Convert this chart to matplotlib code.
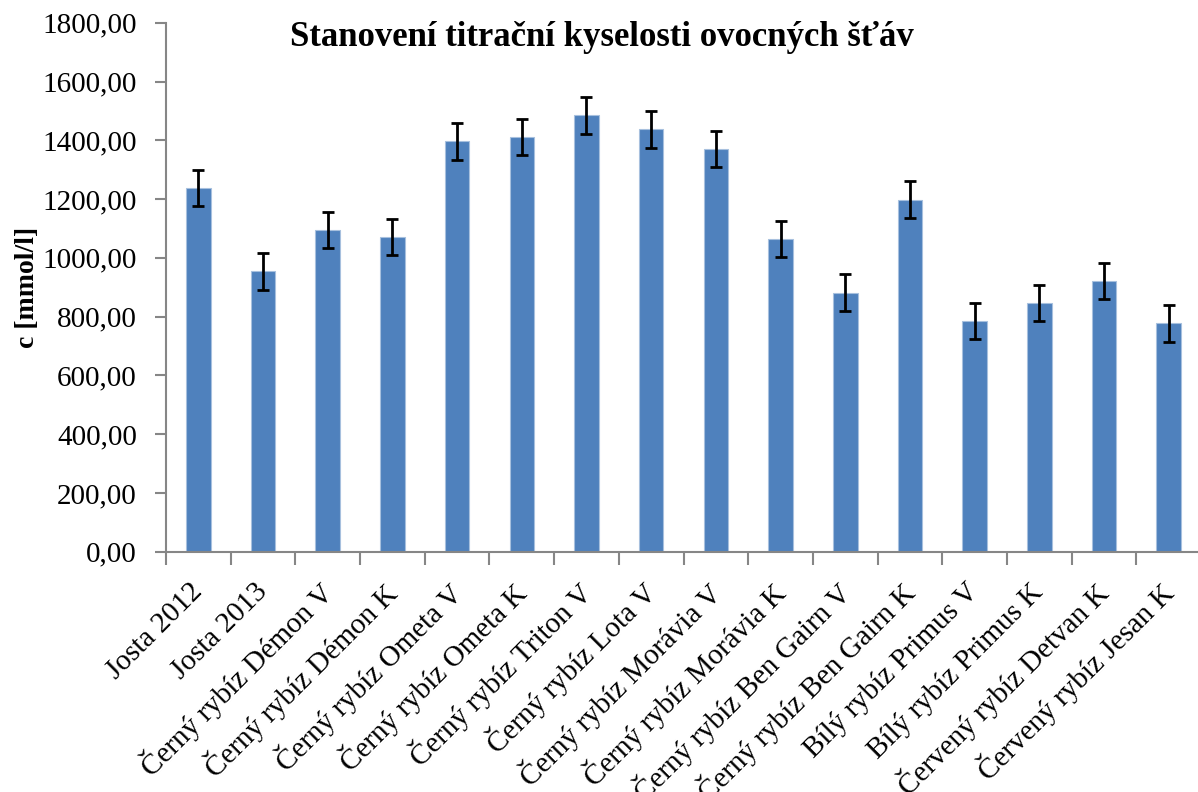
import numpy as np
import matplotlib
matplotlib.use("Agg")
import matplotlib.pyplot as plt

plt.rcParams["font.family"] = ["Liberation Serif", "DejaVu Serif"]

categories = ["Josta 2012", "Josta 2013", "Černý rybíz Démon V", "Černý rybíz Démon K",
              "Černý rybíz Ometa V", "Černý rybíz Ometa K", "Černý rybíz Triton V",
              "Černý rybíz Lota V", "Černý rybíz Morávia V", "Černý rybíz Morávia K",
              "Černý rybíz Ben Gairn V", "Černý rybíz Ben Gairn K", "Bílý rybíz Primus V",
              "Bílý rybíz Primus K", "Červený rybíz Detvan K", "Červený rybíz Jesan K"]
values = [1238, 954, 1094, 1070, 1396, 1411, 1485, 1437, 1371, 1065, 882, 1198,
          786, 847, 921, 777]
errors = [62, 62, 62, 62, 62, 62, 62, 62, 62, 62, 62, 62, 62, 62, 62, 62]
yticks = [0, 200, 400, 600, 800, 1000, 1200, 1400, 1600, 1800]

fig = plt.figure(figsize=(11.98, 7.92), dpi=100)
ax = fig.add_axes([0.1386, 0.3034, 1.0025 - 0.1386, 0.9713 - 0.3034])

x = np.arange(len(categories))
ax.bar(x, values, width=0.38, color="#4F81BD", edgecolor="#A7C0DE", linewidth=0.8, zorder=2)
ax.errorbar(x, values, yerr=errors, fmt="none", ecolor="black", elinewidth=2,
            capsize=4.5, capthick=2, zorder=3)

ax.set_xlim(-0.5, len(categories) - 0.5)
ax.set_ylim(0, 1800)
ax.set_yticks(yticks)
ax.set_yticklabels([("%.2f" % v).replace(".", ",") for v in yticks], fontsize=21)

ax.set_xticks(np.arange(len(categories) + 1) - 0.5)
ax.set_xticklabels([])
ax.set_xticks(x, minor=True)
ax.set_xticklabels(categories, minor=True, rotation=45, ha="right", va="center",
                   rotation_mode="anchor", fontsize=21)
ax.tick_params(axis="x", which="minor", length=0, pad=26)
ax.tick_params(axis="x", which="major", length=9, width=1.5, color="#868686", direction="out")
ax.tick_params(axis="y", length=8, width=1.5, color="#868686", direction="out", pad=13)

for s in ["top", "right"]:
    ax.spines[s].set_visible(False)
for s in ["left", "bottom"]:
    ax.spines[s].set_color("#868686")
    ax.spines[s].set_linewidth(1.5)

ax.set_ylabel("c [mmol/l]", fontsize=20, fontweight="bold", labelpad=2)
fig.text(0.5025, 1 - 38 / 792, "Stanovení titrační kyselosti ovocných šťáv",
         ha="center", va="center", fontsize=25, fontweight="bold")

fig.savefig("out.png", dpi=100)
